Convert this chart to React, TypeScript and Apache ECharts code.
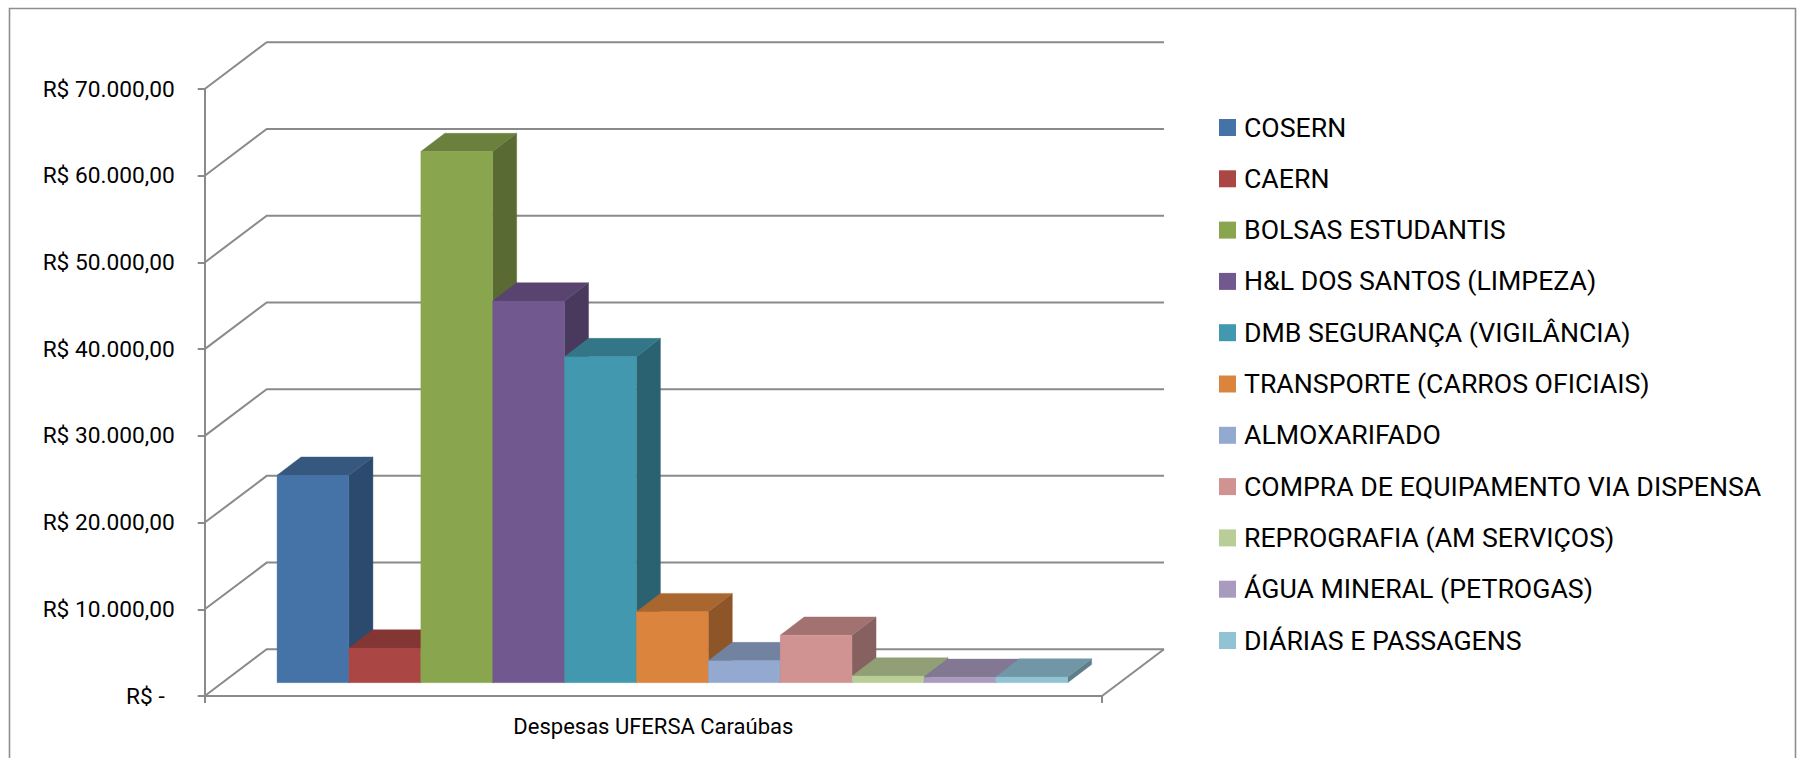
import React, { useEffect, useRef } from "react";
import * as echarts from "echarts";

const CATEGORY = "Despesas UFERSA Caraúbas";
const seriesNames = [
  "COSERN",
  "CAERN",
  "BOLSAS ESTUDANTIS",
  "H&L DOS SANTOS (LIMPEZA)",
  "DMB SEGURANÇA (VIGILÂNCIA)",
  "TRANSPORTE (CARROS OFICIAIS)",
  "ALMOXARIFADO",
  "COMPRA DE EQUIPAMENTO VIA DISPENSA",
  "REPROGRAFIA (AM SERVIÇOS)",
  "ÁGUA MINERAL (PETROGAS)",
  "DIÁRIAS E PASSAGENS",
];
const seriesValues = [23920, 4000, 61250, 44020, 37600, 8190, 2540, 5470, 770, 620, 660];
const frontColors = ["#4572A7", "#AA4643", "#89A54E", "#71588F", "#4198AF", "#DB843D", "#93A9CF", "#D19392", "#B9CD96", "#A99BBD", "#91C3D5"];
const topColors = ["#36587F", "#843634", "#6B803D", "#58446F", "#337688", "#AA662F", "#7283A1", "#A27271", "#909F75", "#837893", "#7197A6"];
const sideColors = ["#2C4A6D", "#6E2E2C", "#596A33", "#49395D", "#2A6272", "#8E5528", "#5F6D86", "#876060", "#788561", "#6E647B", "#5E7E8A"];
const yTicks = [0, 10000, 20000, 30000, 40000, 50000, 60000, 70000];

const AXIS_GRAY = "#8A8A8A";
const FONT = "Roboto, 'Liberation Sans', sans-serif";
const WALL_DX = 62;
const WALL_DY = 46.7;
const BAR_DX = 24;
const BAR_DY = 18.3;
const PLANE_DY = 13.3;
const PLANE_SHIFT = 19;
const BAR_BAND = 0.0801;

function brl(v: number): string {
  if (v === 0) return "{z|R$ -}";
  return "R$ " + String(v / 1000) + ".000,00";
}

function wallItem(params: any, api: any) {
  const tick = api.value(0);
  const p = api.coord([0, tick]);
  const band = api.size([1, 0])[0];
  const l = p[0] - band / 2;
  const r = p[0] + band / 2;
  const y = p[1];
  const children: any[] = [
    {
      type: "polyline",
      shape: { points: [[l, y], [l + WALL_DX, y - WALL_DY], [r + WALL_DX, y - WALL_DY]] },
      style: { stroke: AXIS_GRAY, lineWidth: 2, fill: "none" },
    },
  ];
  if (tick === 0) {
    children.push({
      type: "line",
      shape: { x1: r, y1: y, x2: r + WALL_DX, y2: y - WALL_DY },
      style: { stroke: AXIS_GRAY, lineWidth: 2 },
    });
  }
  return { type: "group", children };
}

function barRenderer(idx: number) {
  return (params: any, api: any) => {
    const v = api.value(1);
    const top = api.coord([0, v]);
    const base = api.coord([0, 0]);
    const band = api.size([1, 0])[0];
    const w = band * BAR_BAND;
    const x = top[0] + PLANE_SHIFT + (idx - seriesValues.length / 2) * w;
    const yt = top[1] - PLANE_DY;
    const yb = base[1] - PLANE_DY;
    const back = 10 + idx;
    return {
      type: "group",
      children: [
        {
          type: "polygon",
          z2: back,
          shape: { points: [[x + w, yt], [x + w + BAR_DX, yt - BAR_DY], [x + w + BAR_DX, yb - BAR_DY], [x + w, yb]] },
          style: { fill: sideColors[idx], stroke: sideColors[idx], lineWidth: 0.4 },
        },
        {
          type: "polygon",
          z2: back,
          shape: { points: [[x, yt], [x + BAR_DX, yt - BAR_DY], [x + w + BAR_DX, yt - BAR_DY], [x + w, yt]] },
          style: { fill: topColors[idx], stroke: topColors[idx], lineWidth: 0.4 },
        },
        {
          type: "rect",
          z2: 100,
          shape: { x, y: yt, width: w, height: yb - yt },
          style: { fill: frontColors[idx], stroke: frontColors[idx], lineWidth: 0.3 },
        },
      ],
    };
  };
}

export default function App() {
  const ref = useRef<HTMLDivElement>(null);
  useEffect(() => {
    document.body.style.margin = "0";
    document.body.style.overflow = "hidden";
    const chart = echarts.init(ref.current!, undefined, { renderer: "svg" });
    chart.setOption({
      animation: false,
      backgroundColor: "#FFFFFF",
      textStyle: { fontFamily: FONT },
      graphic: [
        {
          type: "polyline",
          shape: { points: [[9.5, 760], [9.5, 8.5], [1795.5, 8.5], [1795.5, 760]] },
          style: { stroke: "#8E8E8E", lineWidth: 1.6, fill: "none" },
        },
      ],
      grid: { left: 204.7, top: 89, width: 897.3, height: 607, containLabel: false },
      xAxis: {
        type: "category",
        data: [CATEGORY],
        boundaryGap: true,
        axisLine: { show: true, lineStyle: { color: AXIS_GRAY, width: 2 } },
        axisTick: { show: true, length: 7, lineStyle: { color: AXIS_GRAY, width: 2 } },
        axisLabel: { color: "#000000", fontSize: 22, fontFamily: FONT, margin: 19 },
      },
      yAxis: {
        type: "value",
        min: 0,
        max: 70000,
        interval: 10000,
        splitLine: { show: false },
        axisLine: { show: true, lineStyle: { color: AXIS_GRAY, width: 2 } },
        axisTick: { show: true, length: 7, lineStyle: { color: AXIS_GRAY, width: 2 } },
        axisLabel: {
          color: "#000000",
          fontSize: 22.7,
          fontFamily: FONT,
          margin: 30,
          formatter: brl,
          rich: { z: { color: "#000000", fontSize: 22.7, fontFamily: FONT, padding: [0, 10, 0, 0] } },
        },
      },
      legend: {
        orient: "vertical",
        left: 1219,
        top: 114,
        padding: 0,
        icon: "rect",
        itemWidth: 17,
        itemHeight: 17,
        itemGap: 24.3,
        selectedMode: false,
        data: seriesNames,
        textStyle: { color: "#000000", fontSize: 26.7, fontFamily: FONT, padding: [0, 0, 0, 3] },
      },
      series: [
        {
          type: "custom",
          name: "grade",
          coordinateSystem: "cartesian2d",
          clip: false,
          z: 1,
          renderItem: wallItem,
          data: yTicks.map((t) => [t]),
          encode: { y: 0 },
          silent: true,
        },
        ...seriesNames.map((name, i) => ({
          type: "custom",
          name,
          coordinateSystem: "cartesian2d",
          clip: false,
          z: 2,
          itemStyle: { color: frontColors[i] },
          renderItem: barRenderer(i),
          encode: { x: 0, y: 1 },
          data: [[0, seriesValues[i]]],
        })),
      ],
    });
    return () => chart.dispose();
  }, []);
  return <div ref={ref} style={{ width: 1797, height: 758 }} />;
}
